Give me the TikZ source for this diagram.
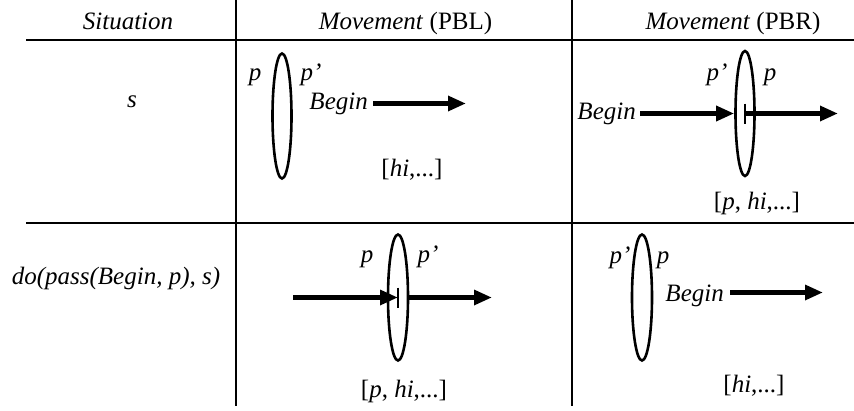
\documentclass[tikz,border=0pt]{standalone}
\usepackage{fontspec}
\setmainfont{Liberation Serif}
\usetikzlibrary{arrows.meta,shapes.geometric}
\begin{document}
\begin{tikzpicture}[x=1pt,y=-1pt,
  tbl/.style={line width=1.6pt},
  lbl/.style={font=\fontsize{25}{30}\selectfont, inner sep=0pt, anchor=base},
  it/.style={lbl, font=\fontsize{25}{30}\selectfont\itshape},
  ell/.style={draw, ellipse, line width=2.6pt, inner sep=0pt, minimum width=19pt, minimum height=125pt},
  arr/.style={line width=5pt, -{Triangle[length=18pt,width=14.5pt]}},
  bar/.style={line width=2pt}]
\useasboundingbox (0,0) rectangle (854,410);
% table rules
\draw[tbl] (26,40) -- (854,40);
\draw[tbl] (26,223) -- (854,223);
\draw[tbl] (236,0) -- (236,406);
\draw[tbl] (572,0) -- (572,406);
% headers
\node[it] (h1) at (128,29) {Situation};
\node[lbl] (h2) at (405.5,29) {\textit{Movement} (PBL)};
\node[lbl] (h3) at (733,29) {\textit{Movement} (PBR)};
\node[it] (r1) at (132,107) {s};
\node[it] (r2) at (116,284) {do(pass(Begin, p), s)};
% row 1, PBL
\node[ell] (e1) at (282,116) {};
\node[it] (p1) at (255,80) {p};
\node[it] (q1) at (311,80) {p'};
\node[it, anchor=east] (b1) at (368,103.5) {Begin};
\coordinate (t1) at (466,103.5);
\draw[arr, shorten <=5pt] (b1.east) -- (t1);
\node[lbl] (l1) at (412,176) {[\textit{hi},...]};
% row 1, PBR
\node[ell] (e2) at (745,113.5) {};
\node[it] (q2) at (717,80) {p'};
\node[it] (p2) at (770,80) {p};
\node[it, anchor=east] (b2) at (636,113.5) {Begin};
\draw[arr, shorten <=4pt] (b2.east) -- (e2.west);
\draw[bar] ([yshift=10pt]e2.center) -- ([yshift=-10pt]e2.center);
\coordinate (t2) at (838,113.5);
\draw[arr] ([xshift=1pt]e2.center) -- (t2);
\node[lbl] (l2) at (757,209) {[\textit{p}, \textit{hi},...]};
% row 2, PBL
\node[ell, minimum width=20pt, minimum height=126pt] (e3) at (398,297.5) {};
\node[it] (p3) at (367,262) {p};
\node[it] (q3) at (428,262) {p'};
\coordinate (s3) at (293,297.5);
\draw[arr] (s3) -- (e3.center);
\draw[bar] ([yshift=10pt]e3.center) -- ([yshift=-10pt]e3.center);
\coordinate (t3) at (492,297.5);
\draw[arr] (e3.east) -- (t3);
\node[lbl] (l3) at (404,397) {[\textit{p}, \textit{hi},...]};
% row 2, PBR
\node[ell, minimum width=20pt, minimum height=126pt] (e4) at (642,297.5) {};
\node[it] (q4) at (620,263) {p'};
\node[it] (p4) at (663,263) {p};
\node[it, anchor=base east] (b4) at (724,301.5) {Begin};
\draw[arr] (b4.base east) ++(6pt,9pt) -- ++(93pt,0pt);
\node[lbl] (l4) at (754,392) {[\textit{hi},...]};
\end{tikzpicture}
\end{document}
